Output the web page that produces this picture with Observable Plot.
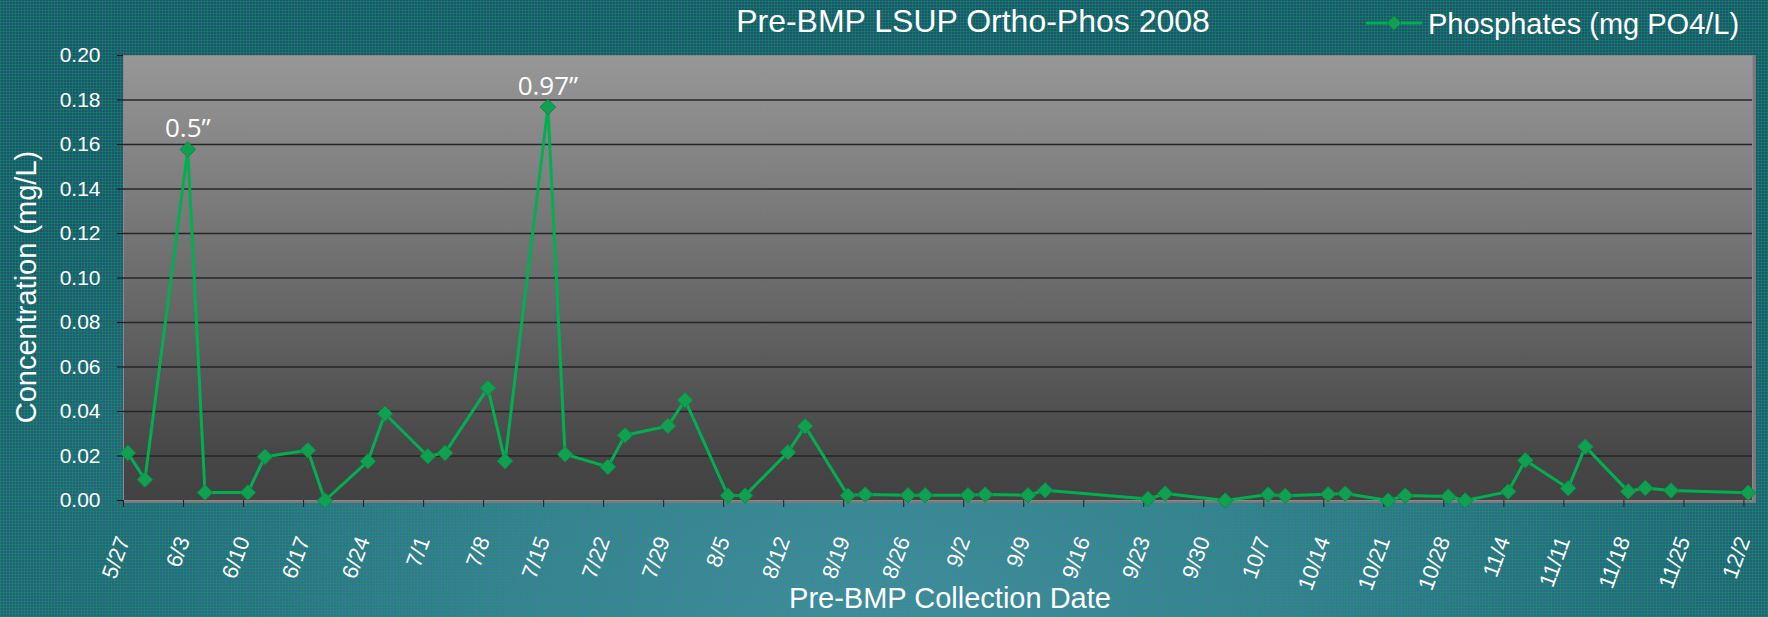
<!DOCTYPE html>
<html>
<head>
<meta charset="utf-8">
<script src="https://cdn.jsdelivr.net/npm/d3@7"></script>
<script src="https://cdn.jsdelivr.net/npm/@observablehq/plot@0.6"></script>
<style>
  html, body { margin: 0; padding: 0; background: #1f5670; }
  #wrap {
    position: relative; width: 1768px; height: 617px; overflow: hidden;
    font-family: "Liberation Sans", Arial, sans-serif; color: #fff;
    background:
      repeating-linear-gradient(90deg, rgba(10,170,90,0.32) 0 1px, rgba(0,0,0,0) 1px 3px),
      repeating-linear-gradient(0deg, rgba(10,170,90,0.32) 0 1px, rgba(0,0,0,0) 1px 3px),
      radial-gradient(ellipse 62% 95% at 50% 100%, #4c85ab 0%, #3f7a9c 35%, #2b6784 65%, #1d5570 100%);
  }
  #chart { position: absolute; left: 0; top: 0; }
  .lbl { position: absolute; white-space: nowrap; line-height: 29px; font-size: 29px; }
  #title { left: 973px; top: 5px; font-size: 32px; line-height: 32px; transform: translateX(-50%); }
  #legend { left: 1366px; top: 10px; display: flex; align-items: center; }
  #legend svg { margin-right: 6px; margin-top: -4px; }
  #ytitle { left: 26px; top: 287px; transform: translate(-50%, -50%) rotate(-90deg); }
  #xtitle { left: 950px; top: 584px; transform: translateX(-50%); }
</style>
</head>
<body>
<div id="wrap">
  <div id="chart"></div>
  <div id="title" class="lbl">Pre-BMP LSUP Ortho-Phos 2008</div>
  <div id="legend" class="lbl"><svg width="56" height="16" viewBox="0 0 56 16"><line x1="0" y1="8" x2="56" y2="8" stroke="#00b050" stroke-width="3"/><polygon points="28,1 35,8 28,15 21,8" fill="#10a150" stroke="#0c8a45"/></svg><span>Phosphates (mg PO4/L)</span></div>
  <div id="ytitle" class="lbl">Concentration (mg/L)</div>
  <div id="xtitle" class="lbl">Pre-BMP Collection Date</div>
</div>
<script>
// ---- data ----
const sampleDates = ["5/27","5/29","6/3","6/5","6/10","6/12","6/17","6/19","6/24","6/26",
  "7/1","7/3","7/8","7/10","7/15","7/17","7/22","7/24","7/29","7/31",
  "8/5","8/7","8/12","8/14","8/19","8/21","8/26","8/28",
  "9/2","9/4","9/9","9/11","9/23","9/25",
  "10/2","10/7","10/9","10/14","10/16","10/21","10/23","10/28","10/30",
  "11/4","11/6","11/11","11/13","11/18","11/20","11/23","12/2"];
const phosphates = [0.0214,0.0094,0.1578,0.0036,0.0036,0.0197,0.0226,0.0,0.0176,0.0390,
  0.0199,0.0214,0.0506,0.0177,0.1768,0.0208,0.0151,0.0293,0.0335,0.0451,
  0.0022,0.0022,0.0217,0.0334,0.0022,0.0027,0.0024,0.0024,
  0.0024,0.0027,0.0024,0.0046,0.0007,0.0031,
  0.0,0.0027,0.0021,0.0028,0.0031,0.0,0.0022,0.0018,0.0,
  0.0040,0.0181,0.0055,0.0242,0.0041,0.0056,0.0045,0.0035];
const tickLabels = ["5/27","6/3","6/10","6/17","6/24","7/1","7/8","7/15","7/22","7/29",
  "8/5","8/12","8/19","8/26","9/2","9/9","9/16","9/23","9/30","10/7","10/14","10/21",
  "10/28","11/4","11/11","11/18","11/25","12/2"];
const xDomainLabels = ["5/27","12/3"];
const yTicks = [0.00,0.02,0.04,0.06,0.08,0.10,0.12,0.14,0.16,0.18,0.20];
const annDates = ["6/3","7/15"];
const annLabels = ["0.5\u201D","0.97\u201D"];
const year = 2008;

// ---- build ----
const parse = s => { const [m, d] = s.split("/").map(Number); return new Date(Date.UTC(year, m - 1, d)); };
const halfDay = 12 * 3600 * 1000;
const center = s => new Date(parse(s).getTime() + halfDay);
const data = sampleDates.map((s, i) => ({date: center(s), value: phosphates[i]}));
const ann = annDates.map((s, i) => ({date: center(s), value: phosphates[sampleDates.indexOf(s)], label: annLabels[i]}));
const tickDates = tickLabels.map(parse);
const labelOf = new Map(tickDates.map((d, i) => [+d, tickLabels[i]]));

const defs = () => {
  const g = d3.create("svg:defs");
  const lg = g.append("linearGradient").attr("id", "plotbg").attr("x1", 0).attr("y1", 0).attr("x2", 0).attr("y2", 1);
  lg.append("stop").attr("offset", "0%").attr("stop-color", "#979797");
  lg.append("stop").attr("offset", "55%").attr("stop-color", "#686868");
  lg.append("stop").attr("offset", "90%").attr("stop-color", "#464646");
  lg.append("stop").attr("offset", "100%").attr("stop-color", "#424242");
  return g.node();
};

const chart = Plot.plot({
  width: 1768,
  height: 617,
  marginLeft: 123,
  marginRight: 16,
  marginTop: 55,
  marginBottom: 117,
  style: {background: "transparent", color: "white", fontFamily: "'Liberation Sans', Arial, sans-serif", overflow: "visible"},
  x: {type: "utc", domain: xDomainLabels.map(parse)},
  y: {domain: [0, 0.2]},
  marks: [
    defs,
    Plot.frame({stroke: "#7a7a7a", strokeWidth: 3, dx: 2, dy: 1}),
    Plot.frame({fill: "url(#plotbg)", stroke: "#8a8a8a", strokeWidth: 1}),
    Plot.gridY(yTicks.slice(1, -1), {stroke: "#262626", strokeOpacity: 1, strokeWidth: 1.5}),
    Plot.axisY(yTicks, {tickFormat: d3.format(".2f"), tickSize: 6, tickPadding: 17, fontSize: 21,
      stroke: "#111", fill: "white", line: true, label: null}),
    Plot.axisX(tickDates, {tickFormat: d => labelOf.get(+d), tickRotate: -70, tickSize: 7, tickPadding: 30,
      fontSize: 22, stroke: "#222", fill: "white", label: null}),
    Plot.line(data, {x: "date", y: "value", stroke: "#00b050", strokeWidth: 3}),
    Plot.dot(data, {x: "date", y: "value", symbol: "diamond2", r: 7, fill: "#10a150", stroke: "#0c8a45", strokeWidth: 1}),
    Plot.text(ann, {x: "date", y: "value", text: "label", lineAnchor: "bottom", dy: -12, fontSize: 26,
      fontFamily: "'Open Sans', sans-serif", fill: "white"})
  ]
});
document.getElementById("chart").appendChild(chart);
</script>
</body>
</html>
